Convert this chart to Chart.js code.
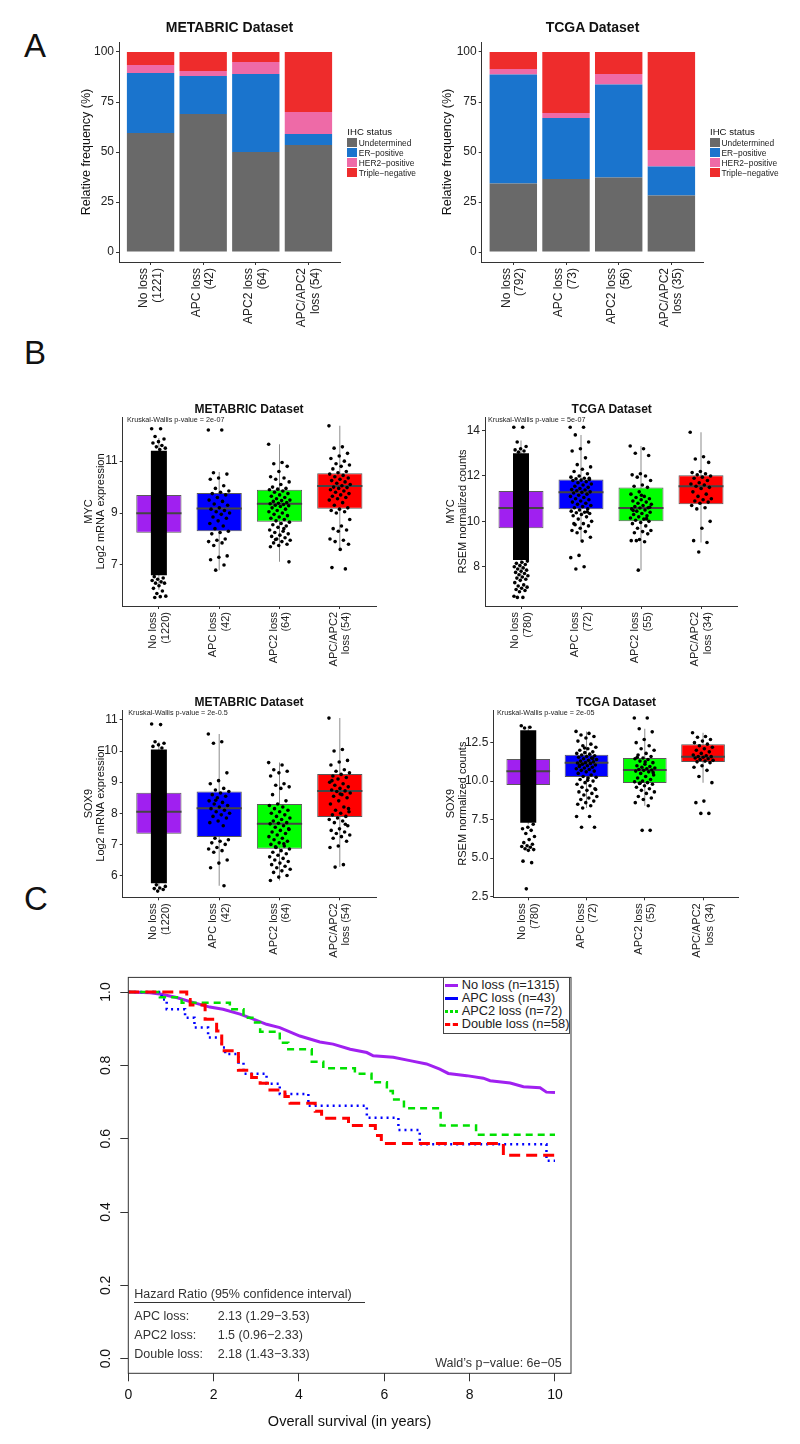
<!DOCTYPE html>
<html>
<head>
<meta charset="utf-8">
<script src="https://cdn.jsdelivr.net/npm/chart.js@4.4.0/dist/chart.umd.min.js"></script>
<style>
  body { margin: 0; background: #fff; font-family: "Liberation Sans", Arial, sans-serif; }
  #page { position: relative; width: 800px; height: 1444px; overflow: hidden; }
  canvas { position: absolute; }
  .t { position: absolute; white-space: nowrap; color: #111; }
</style>
</head>
<body>
<div id="page"></div>
<script>
// ---------- Panel A: IHC status, stacked percentages ----------
const groupNames = ['No loss', 'APC loss', 'APC2 loss', 'APC/APC2 loss'];
const metabricCountsA = [1221, 42, 64, 54];
const tcgaCountsA = [792, 73, 56, 35];
const ihcStatus = ['Undetermined', 'ER\u2212positive', 'HER2\u2212positive', 'Triple\u2212negative'];
const ihcColors = ['#696969', '#1a74cd', '#ee6aa7', '#ee2c2c'];
const pctTicks = [0, 25, 50, 75, 100];

const metabricUndetermined = [59.5, 69, 50, 53.5];
const metabricErPos = [30, 19, 39, 5.5];
const metabricHer2Pos = [4, 2.5, 6, 11];
const metabricTripleNeg = [6.5, 9.5, 5, 30];

const tcgaUndetermined = [34.2, 36.5, 37.2, 28.3];
const tcgaErPos = [54.6, 30.5, 46.5, 14.4];
const tcgaHer2Pos = [2.7, 2.5, 5.3, 8.3];
const tcgaTripleNeg = [8.5, 30.5, 11, 49];

// ---------- Panel B: expression box plots ----------
const metabricCountsB = [1220, 42, 64, 54];
const tcgaCountsB = [780, 72, 55, 34];
const boxColors = ['#a020f0', '#0000ff', '#00ff00', '#ff0000'];
// [lower whisker, q1, median, q3, upper whisker]
const mycMetabricStats = [[6.05, 8.24, 8.99, 9.70, 11.89], [6.8, 8.3, 9.18, 9.77, 10.58], [7.12, 8.67, 9.36, 9.9, 11.65], [7.6, 9.17, 10.04, 10.53, 12.36]];
const mycTcgaStats = [[7.41, 9.70, 10.59, 11.34, 13.56], [9.13, 10.53, 11.28, 11.84, 13.81], [7.85, 10.0, 10.59, 11.49, 13.32], [9.07, 10.76, 11.55, 12.03, 13.93]];
const sox9MetabricStats = [[5.6, 7.34, 8.05, 8.66, 10.3], [5.67, 7.24, 8.16, 8.7, 10.55], [5.84, 6.86, 7.66, 8.3, 9.63], [6.27, 7.88, 8.72, 9.26, 11.06]];
const sox9TcgaStats = [[7.2, 9.74, 10.64, 11.43, 13.6], [8.25, 10.26, 11.2, 11.71, 13.23], [8.4, 9.87, 10.72, 11.5, 13.4], [9.9, 11.24, 11.59, 12.4, 13.14]];

// "No loss" groups are too dense to read point by point: solid core range + readable tail points
const mycMetabricNoLossCore = [6.6, 11.4];
const mycMetabricNoLossTail = [12.25, 12.25, 11.95, 11.85, 11.75, 11.7, 11.6, 11.55, 11.5, 11.45, 6.55, 6.5, 6.45, 6.4, 6.35, 6.3, 6.3, 6.2, 6.1, 6.0, 5.9, 5.8, 5.78, 5.75];
const mycMetabricApc = [12.2, 12.2, 10.55, 10.5, 10.35, 10.3, 10.05, 9.95, 9.85, 9.8, 9.75, 9.7, 9.6, 9.5, 9.45, 9.35, 9.3, 9.2, 9.15, 9.1, 9.05, 9.0, 8.95, 8.85, 8.8, 8.7, 8.6, 8.5, 8.4, 8.3, 8.25, 8.2, 8.0, 7.95, 7.9, 7.85, 7.75, 7.35, 7.3, 7.2, 7.0, 6.8];
const mycMetabricApc2 = [11.65, 10.95, 10.9, 10.8, 10.6, 10.4, 10.35, 10.3, 10.2, 10.1, 10.0, 9.95, 9.92, 9.9, 9.85, 9.8, 9.75, 9.7, 9.65, 9.6, 9.55, 9.5, 9.48, 9.45, 9.4, 9.38, 9.36, 9.33, 9.3, 9.28, 9.25, 9.2, 9.15, 9.1, 9.05, 9.0, 8.95, 8.9, 8.85, 8.8, 8.75, 8.7, 8.65, 8.6, 8.55, 8.5, 8.45, 8.35, 8.3, 8.25, 8.2, 8.15, 8.1, 8.05, 8.0, 7.95, 7.9, 7.85, 7.8, 7.75, 7.7, 8.4, 7.98, 7.12];
const mycMetabricDouble = [12.36, 11.55, 11.5, 11.3, 11.2, 11.1, 11.0, 10.9, 10.85, 10.8, 10.7, 10.6, 10.55, 10.5, 10.45, 10.4, 10.35, 10.3, 10.25, 10.2, 10.15, 10.1, 10.05, 10.0, 9.98, 9.95, 9.9, 9.85, 9.8, 9.75, 9.7, 9.65, 9.6, 9.55, 9.5, 9.4, 9.3, 9.2, 9.15, 9.1, 9.05, 9.0, 8.75, 8.5, 8.4, 8.35, 8.3, 8.0, 7.95, 7.9, 7.8, 7.6, 6.9, 6.85];

const mycTcgaNoLossCore = [8.3, 13.0];
const mycTcgaNoLossTail = [14.15, 14.15, 13.5, 13.3, 13.2, 13.15, 13.1, 13.05, 8.25, 8.2, 8.15, 8.1, 8.05, 8.0, 7.95, 7.9, 7.85, 7.8, 7.75, 7.7, 7.65, 7.6, 7.55, 7.5, 7.45, 7.4, 7.3, 7.2, 7.15, 7.1, 7.05, 7.0, 6.95, 6.9, 6.7, 6.65, 6.65];
const mycTcgaApc = [14.15, 14.15, 13.81, 13.5, 13.2, 13.1, 12.8, 12.5, 12.4, 12.3, 12.2, 12.1, 12.0, 11.95, 11.9, 11.88, 11.85, 11.82, 11.8, 11.75, 11.7, 11.65, 11.6, 11.55, 11.5, 11.45, 11.4, 11.38, 11.35, 11.3, 11.28, 11.25, 11.2, 11.15, 11.1, 11.05, 11.0, 10.95, 10.9, 10.85, 10.8, 10.75, 10.7, 10.65, 10.6, 10.55, 10.5, 10.45, 10.4, 10.38, 10.35, 10.3, 10.25, 10.2, 10.1, 10.0, 9.9, 9.85, 9.8, 9.7, 9.6, 9.55, 9.5, 9.3, 9.13, 9.9, 10.42, 8.5, 8.4, 8.0, 7.9, 11.9];
const mycTcgaApc2 = [13.32, 13.2, 13.0, 12.9, 12.1, 12.05, 12.0, 11.95, 11.8, 11.6, 11.55, 11.5, 11.3, 11.2, 11.1, 11.05, 11.0, 10.95, 10.9, 10.85, 10.8, 10.75, 10.7, 10.65, 10.6, 10.59, 10.55, 10.5, 10.45, 10.4, 10.35, 10.3, 10.25, 10.2, 10.15, 10.1, 10.05, 10.0, 9.95, 9.9, 9.8, 9.7, 9.6, 9.55, 9.5, 9.45, 9.2, 9.15, 9.1, 9.15, 10.62, 11.15, 10.48, 10.12, 7.85];
const mycTcgaDouble = [13.93, 12.85, 12.75, 12.6, 12.2, 12.15, 12.1, 12.05, 12.0, 11.95, 11.9, 11.8, 11.7, 11.65, 11.6, 11.55, 11.5, 11.45, 11.3, 11.2, 11.1, 11.0, 10.95, 10.9, 10.85, 10.8, 10.7, 10.6, 10.55, 10.0, 9.7, 9.15, 9.07, 8.65];

const sox9MetabricNoLossCore = [5.75, 10.05];
const sox9MetabricNoLossTail = [10.87, 10.85, 10.3, 10.25, 10.2, 10.15, 10.1, 5.7, 5.65, 5.6, 5.58, 5.55, 5.5];
const sox9MetabricApc = [10.55, 10.3, 10.25, 9.3, 9.05, 8.95, 8.8, 8.75, 8.7, 8.65, 8.6, 8.55, 8.5, 8.4, 8.35, 8.3, 8.25, 8.2, 8.15, 8.1, 8.05, 8.0, 7.95, 7.9, 7.85, 7.75, 7.7, 7.6, 7.2, 7.15, 7.1, 7.05, 7.0, 6.9, 6.85, 6.8, 6.75, 6.5, 6.4, 6.25, 5.67, 8.42];
const sox9MetabricApc2 = [9.63, 9.55, 9.4, 9.35, 9.3, 9.2, 8.95, 8.9, 8.85, 8.8, 8.6, 8.4, 8.3, 8.25, 8.2, 8.15, 8.1, 8.05, 8.0, 7.95, 7.9, 7.85, 7.8, 7.75, 7.7, 7.68, 7.66, 7.6, 7.55, 7.5, 7.45, 7.4, 7.35, 7.3, 7.25, 7.2, 7.15, 7.1, 7.05, 7.0, 6.95, 6.9, 6.85, 6.8, 6.75, 6.7, 6.65, 6.6, 6.55, 6.5, 6.45, 6.4, 6.35, 6.3, 6.25, 6.2, 6.15, 6.1, 6.0, 5.95, 5.84, 7.02, 6.92, 7.48];
const sox9MetabricDouble = [11.06, 10.05, 10.0, 9.7, 9.65, 9.55, 9.4, 9.35, 9.3, 9.25, 9.2, 9.15, 9.1, 9.0, 8.95, 8.9, 8.85, 8.8, 8.75, 8.72, 8.7, 8.65, 8.6, 8.55, 8.5, 8.4, 8.3, 8.2, 8.1, 8.05, 8.0, 7.95, 7.9, 7.85, 7.8, 7.75, 7.7, 7.6, 7.5, 7.45, 7.4, 7.35, 7.3, 7.25, 7.2, 7.1, 6.95, 6.9, 6.35, 6.27, 8.15, 8.62, 9.05, 7.65];

const sox9TcgaNoLossCore = [7.3, 13.3];
const sox9TcgaNoLossTail = [13.6, 13.5, 13.45, 7.2, 7.0, 6.9, 6.8, 6.6, 6.4, 6.2, 6.0, 5.9, 5.8, 5.75, 5.7, 5.6, 5.55, 5.5, 4.8, 4.7, 3.0];
const sox9TcgaApc = [13.23, 13.1, 13.0, 12.9, 12.8, 12.6, 12.4, 12.3, 12.2, 12.1, 12.0, 11.9, 11.85, 11.8, 11.75, 11.7, 11.65, 11.6, 11.55, 11.5, 11.45, 11.4, 11.35, 11.3, 11.25, 11.2, 11.18, 11.15, 11.1, 11.05, 11.0, 10.95, 10.9, 10.85, 10.8, 10.75, 10.7, 10.65, 10.6, 10.5, 10.4, 10.3, 10.25, 10.2, 10.1, 10.0, 9.9, 9.8, 9.7, 9.6, 9.5, 9.4, 9.3, 9.2, 9.1, 9.0, 8.9, 8.8, 8.7, 8.6, 8.5, 8.4, 8.25, 9.45, 10.05, 11.02, 11.48, 12.15, 7.7, 7.7, 7.0, 7.0];
const sox9TcgaApc2 = [14.1, 14.1, 13.4, 13.2, 12.7, 12.5, 12.3, 12.1, 12.0, 11.8, 11.7, 11.6, 11.5, 11.45, 11.4, 11.3, 11.2, 11.1, 11.0, 10.95, 10.9, 10.85, 10.8, 10.75, 10.72, 10.7, 10.65, 10.6, 10.5, 10.4, 10.3, 10.2, 10.1, 10.0, 9.95, 9.9, 9.85, 9.8, 9.7, 9.6, 9.5, 9.4, 9.3, 9.2, 9.0, 8.9, 8.8, 8.6, 8.4, 9.88, 10.55, 11.25, 11.55, 6.8, 6.8];
const sox9TcgaDouble = [13.14, 12.9, 12.85, 12.7, 12.6, 12.5, 12.4, 12.3, 12.2, 12.1, 12.0, 11.9, 11.8, 11.7, 11.65, 11.6, 11.59, 11.55, 11.5, 11.45, 11.4, 11.35, 11.3, 11.25, 11.2, 11.0, 10.9, 10.7, 10.3, 9.9, 8.7, 8.6, 7.9, 7.9];

const mycMetabricTicks = [7, 9, 11];
const mycTcgaTicks = [8, 10, 12, 14];
const sox9MetabricTicks = [6, 7, 8, 9, 10, 11];
const sox9TcgaTicks = [2.5, 5.0, 7.5, 10.0, 12.5];

// ---------- Panel C: Kaplan-Meier survival ----------
const noLossTime = [0, 0.51, 0.78, 1.13, 1.45, 1.91, 2.22, 2.62, 2.93, 3.24, 3.55, 4.02, 4.49, 4.80, 5.2, 5.59, 5.74, 6.21, 6.6, 6.99, 7.3, 7.5, 7.93, 8.32, 8.48, 8.95, 9.26, 9.65, 9.8, 10.0];
const noLossSurv = [1.0, 0.998, 0.994, 0.985, 0.974, 0.959, 0.953, 0.94, 0.926, 0.912, 0.903, 0.88, 0.864, 0.858, 0.844, 0.835, 0.826, 0.822, 0.813, 0.804, 0.79, 0.778, 0.772, 0.765, 0.758, 0.752, 0.742, 0.739, 0.727, 0.726];
const apcTime = [0, 0.78, 0.9, 1.33, 1.55, 1.87, 2.19, 2.27, 2.58, 2.7, 3.24, 3.55, 4.22, 5.59, 6.33, 6.83, 9.8, 10.0];
const apcSurv = [1.0, 0.98, 0.953, 0.93, 0.903, 0.876, 0.849, 0.831, 0.808, 0.777, 0.75, 0.722, 0.69, 0.657, 0.624, 0.585, 0.54, 0.54];
const apc2Time = [0, 0.74, 1.25, 2.38, 2.7, 2.97, 3.09, 3.55, 3.75, 4.3, 4.57, 5.31, 5.7, 6.06, 6.2, 6.46, 7.32, 8.15, 10.0];
const apc2Surv = [1.0, 0.986, 0.971, 0.953, 0.93, 0.917, 0.892, 0.862, 0.844, 0.81, 0.792, 0.777, 0.754, 0.73, 0.707, 0.683, 0.636, 0.611, 0.611];
const doubleTime = [0, 1.37, 1.45, 1.8, 2.07, 2.19, 2.58, 2.89, 3.09, 3.32, 3.67, 3.79, 4.38, 4.53, 5.16, 5.79, 5.93, 8.79, 10.0];
const doubleSurv = [1.0, 0.98, 0.965, 0.926, 0.894, 0.84, 0.787, 0.767, 0.751, 0.733, 0.715, 0.697, 0.675, 0.656, 0.636, 0.609, 0.587, 0.555, 0.555];
const survTicksX = [0, 2, 4, 6, 8, 10];
const survTicksY = [0, 0.2, 0.4, 0.6, 0.8, 1.0];
const kmLegend = ['No loss (n=1315)', 'APC loss (n=43)', 'APC2 loss (n=72)', 'Double loss (n=58)'];
const hrRows = [['APC loss:', '2.13 (1.29\u22123.53)'], ['APC2 loss:', '1.5 (0.96\u22122.33)'], ['Double loss:', '2.18 (1.43\u22123.33)']];

// ---------- helpers ----------
Chart.defaults.font.family = '"Liberation Sans", Arial, sans-serif';
Chart.defaults.color = '#222';
const page = document.getElementById('page');

function makeCanvas(b) {
  const c = document.createElement('canvas');
  c.width = b.w; c.height = b.h;
  c.style.left = b.x + 'px'; c.style.top = b.y + 'px';
  c.style.width = b.w + 'px'; c.style.height = b.h + 'px';
  page.appendChild(c);
  return c;
}

// padding and axis sizes so the plot area lands on `a`
function fit(b, a) {
  return {
    padding: { left: 2, top: a.t - b.y, right: b.x + b.w - a.r, bottom: 2 },
    yWidth: a.l - b.x - 2,
    xHeight: b.y + b.h - 2 - a.b
  };
}

function txt(s, x, y, size, o = {}) {
  const d = document.createElement('div');
  d.className = 't';
  d.textContent = s;
  d.style.left = x + 'px';
  d.style.top = (y - size / 2) + 'px';
  d.style.fontSize = size + 'px';
  d.style.lineHeight = size + 'px';
  if (o.bold) d.style.fontWeight = 'bold';
  if (o.align === 'center') d.style.transform = 'translateX(-50%)';
  if (o.align === 'right') d.style.transform = 'translateX(-100%)';
  if (o.color) d.style.color = o.color;
  page.appendChild(d);
  return d;
}

function block(x, y, w, h, css) {
  const d = document.createElement('div');
  d.style.position = 'absolute';
  d.style.left = x + 'px'; d.style.top = y + 'px';
  d.style.width = w + 'px'; d.style.height = h + 'px';
  Object.assign(d.style, css);
  page.appendChild(d);
  return d;
}

function twoLine(name, n) {
  return name === 'APC/APC2 loss' ? ['APC/APC2', 'loss (' + n + ')'] : [name, '(' + n + ')'];
}

function jit(k, w) {
  return (((k * 0.6180339887) % 1) - 0.5) * w;
}

function xAxis(labels, h, size, stacked) {
  return {
    type: 'linear', min: 0.4, max: labels.length + 0.6, stacked: stacked, offset: false,
    afterBuildTicks: s => { s.ticks = labels.map((l, i) => ({ value: i + 1 })); },
    afterFit: s => { s.height = h; },
    ticks: { callback: (v, i) => labels[i], minRotation: 90, maxRotation: 90, autoSkip: false,
             padding: 3, labelOffset: -Math.round(size * 0.55), color: '#222', font: { size: size, lineHeight: 1.15 } },
    grid: { offset: false, drawOnChartArea: false, tickLength: 3, color: '#333' },
    border: { color: '#333', width: 1 }
  };
}

function yAxis(min, max, tickVals, fmt, w, title, tSize, tPad, stacked) {
  return {
    type: 'linear', min: min, max: max, stacked: stacked, beginAtZero: false,
    afterBuildTicks: s => { s.ticks = tickVals.map(v => ({ value: v })); },
    afterFit: s => { s.width = w; },
    ticks: { callback: v => fmt(v), padding: 2, color: '#222', font: { size: 12 } },
    grid: { drawOnChartArea: false, tickLength: 3, color: '#333' },
    border: { color: '#333', width: 1 },
    title: { display: true, text: title, color: '#111', font: { size: tSize, lineHeight: 1.1 }, padding: { top: tPad, bottom: 0 } }
  };
}

function baseOptions(fx) {
  return {
    responsive: false, animation: false,
    layout: { padding: fx.padding },
    plugins: { legend: { display: false }, tooltip: { enabled: false } }
  };
}

// ---------- Panel A ----------
function stackedChart(b, a, counts, segs, tPad) {
  const fx = fit(b, a);
  const labels = groupNames.map((g, i) => twoLine(g, counts[i]));
  new Chart(makeCanvas(b), {
    type: 'bar',
    data: {
      datasets: segs.map((vals, k) => ({
        label: ihcStatus[k],
        data: vals.map((v, i) => ({ x: i + 1, y: v })),
        backgroundColor: ihcColors[k],
        borderWidth: 0,
        barPercentage: 0.9, categoryPercentage: 1
      }))
    },
    options: Object.assign(baseOptions(fx), {
      scales: {
        x: xAxis(labels, fx.xHeight, 12, true),
        y: yAxis(-5, 105, pctTicks, v => String(v), fx.yWidth, 'Relative frequency (%)', 12.5, tPad, true)
      }
    })
  });
}

stackedChart({ x: 60, y: 30, w: 300, h: 300 }, { l: 119, r: 340, t: 42, b: 262 }, metabricCountsA,
  [metabricUndetermined, metabricErPos, metabricHer2Pos, metabricTripleNeg], 17.8);
stackedChart({ x: 422, y: 30, w: 300, h: 300 }, { l: 481.7, r: 703, t: 42, b: 262 }, tcgaCountsA,
  [tcgaUndetermined, tcgaErPos, tcgaHer2Pos, tcgaTripleNeg], 17.1);

function ihcLegend(x) {
  txt('IHC status', x, 131.7, 9.6);
  ihcStatus.forEach((s, k) => {
    const cy = 142.7 + k * 10;
    block(x, cy - 4.8, 9.5, 9.5, { background: ihcColors[k] });
    txt(s, x + 11.5, cy, 8.4, { color: '#222' });
  });
}
ihcLegend(347.3);
ihcLegend(710);

txt('METABRIC Dataset', 229.5, 27, 14, { bold: true, align: 'center' });
txt('TCGA Dataset', 592.5, 27, 14, { bold: true, align: 'center' });

// ---------- Panel B ----------
function boxChart(c) {
  const fx = fit(c.box, c.area);
  const labels = groupNames.map((g, i) => twoLine(g, c.counts[i]));
  const halfBox = ctx => {
    const s = ctx.chart.scales.x;
    return Math.abs(s.getPixelForValue(1.375) - s.getPixelForValue(1));
  };
  const datasets = [];
  c.points.forEach((vals, i) => {
    const w = (i === 0) ? 0.24 : 0.36;
    datasets.push({
      type: 'scatter', order: 0,
      data: vals.map((v, k) => ({ x: i + 1 + jit(k, w), y: v })),
      pointRadius: 1.8, pointBackgroundColor: '#000', pointBorderWidth: 0
    });
  });
  datasets.push({
    type: 'bar', order: 1, grouped: false,
    data: [{ x: 1, y: c.core }],
    backgroundColor: '#000', borderWidth: 0, maxBarThickness: 16
  });
  datasets.push({
    type: 'scatter', order: 2,
    data: c.stats.map((s, i) => ({ x: i + 1, y: s[2] })),
    pointStyle: 'line', pointRadius: halfBox, pointBorderColor: '#444', pointBorderWidth: 2
  });
  datasets.push({
    type: 'bar', order: 3, grouped: false,
    data: c.stats.map((s, i) => ({ x: i + 1, y: [s[1], s[3]] })),
    backgroundColor: boxColors, borderColor: '#5a5a5a', borderWidth: 1, borderSkipped: false,
    barPercentage: 0.75, categoryPercentage: 1
  });
  datasets.push({
    type: 'bar', order: 4, grouped: false,
    data: c.stats.map((s, i) => ({ x: i + 1, y: [s[0], s[4]] })),
    backgroundColor: '#8c8c8c', borderWidth: 0, maxBarThickness: 1
  });
  new Chart(makeCanvas(c.box), {
    type: 'bar',
    data: { datasets: datasets },
    options: Object.assign(baseOptions(fx), {
      scales: {
        x: xAxis(labels, fx.xHeight, 11, false),
        y: yAxis(c.yMin, c.yMax, c.ticks, c.fmt, fx.yWidth, c.yTitle, 11, c.tPad, false)
      }
    })
  });
}

boxChart({
  box: { x: 70, y: 405, w: 325, h: 275 }, area: { l: 122.7, r: 376, t: 417, b: 606 },
  counts: metabricCountsB, stats: mycMetabricStats, core: mycMetabricNoLossCore,
  points: [mycMetabricNoLossTail, mycMetabricApc, mycMetabricApc2, mycMetabricDouble],
  yMin: 5.42, yMax: 12.7, ticks: mycMetabricTicks, fmt: v => String(v),
  yTitle: ['MYC', 'Log2 mRNA expression'], tPad: 10.5
});
boxChart({
  box: { x: 430, y: 405, w: 325, h: 275 }, area: { l: 485, r: 737, t: 417, b: 606 },
  counts: tcgaCountsB, stats: mycTcgaStats, core: mycTcgaNoLossCore,
  points: [mycTcgaNoLossTail, mycTcgaApc, mycTcgaApc2, mycTcgaDouble],
  yMin: 6.27, yMax: 14.6, ticks: mycTcgaTicks, fmt: v => String(v),
  yTitle: ['MYC', 'RSEM normalized counts'], tPad: 13
});
boxChart({
  box: { x: 70, y: 698, w: 325, h: 275 }, area: { l: 122.7, r: 376, t: 710, b: 897.3 },
  counts: metabricCountsB, stats: sox9MetabricStats, core: sox9MetabricNoLossCore,
  points: [sox9MetabricNoLossTail, sox9MetabricApc, sox9MetabricApc2, sox9MetabricDouble],
  yMin: 5.3, yMax: 11.32, ticks: sox9MetabricTicks, fmt: v => String(v),
  yTitle: ['SOX9', 'Log2 mRNA expression'], tPad: 10.5
});
boxChart({
  box: { x: 430, y: 698, w: 325, h: 275 }, area: { l: 493.3, r: 738, t: 710, b: 897.3 },
  counts: tcgaCountsB, stats: sox9TcgaStats, core: sox9TcgaNoLossCore,
  points: [sox9TcgaNoLossTail, sox9TcgaApc, sox9TcgaApc2, sox9TcgaDouble],
  yMin: 2.45, yMax: 14.62, ticks: sox9TcgaTicks, fmt: v => v.toFixed(1),
  yTitle: ['SOX9', 'RSEM normalized counts'], tPad: 13
});

txt('METABRIC Dataset', 249, 409, 12, { bold: true, align: 'center' });
txt('TCGA Dataset', 611.7, 409, 12, { bold: true, align: 'center' });
txt('METABRIC Dataset', 249, 701.7, 12, { bold: true, align: 'center' });
txt('TCGA Dataset', 616, 701.7, 12, { bold: true, align: 'center' });
txt('Kruskal-Wallis p-value = 2e-07', 127, 420, 7.2, { color: '#222' });
txt('Kruskal-Wallis p-value = 5e-07', 488, 420, 7.2, { color: '#222' });
txt('Kruskal-Wallis p-value = 2e-0.5', 128.3, 712.7, 7.2, { color: '#222' });
txt('Kruskal-Wallis p-value = 2e-05', 497, 712.7, 7.2, { color: '#222' });

// ---------- Panel C ----------
const framePlugin = {
  id: 'frame',
  afterDraw(chart) {
    const a = chart.chartArea, ctx = chart.ctx;
    ctx.save();
    ctx.strokeStyle = '#333';
    ctx.lineWidth = 1;
    ctx.strokeRect(a.left, a.top, a.right - a.left, a.bottom - a.top);
    ctx.restore();
  }
};

const zipXY = (t, s) => t.map((v, i) => ({ x: v, y: s[i] }));
const kmColors = ['#a020f0', '#0000ff', '#00e000', '#ff0000'];
(function () {
  const b = { x: 95, y: 965, w: 490, h: 475 };
  const fx = fit(b, { l: 128.3, r: 571, t: 977.3, b: 1373.3 });
  new Chart(makeCanvas(b), {
    type: 'line',
    data: {
      datasets: [
        { data: zipXY(noLossTime, noLossSurv), borderColor: kmColors[0], borderWidth: 3, order: 3 },
        { data: zipXY(apcTime, apcSurv), borderColor: kmColors[1], borderWidth: 2.5, borderDash: [2, 4], stepped: true, order: 2 },
        { data: zipXY(apc2Time, apc2Surv), borderColor: kmColors[2], borderWidth: 2.5, borderDash: [7, 5], stepped: true, order: 1 },
        { data: zipXY(doubleTime, doubleSurv), borderColor: kmColors[3], borderWidth: 3, borderDash: [11, 6], stepped: true, order: 0 }
      ]
    },
    options: Object.assign(baseOptions(fx), {
      elements: { point: { radius: 0 }, line: { tension: 0 } },
      scales: {
        x: {
          type: 'linear', min: 0, max: 10.375,
          afterBuildTicks: s => { s.ticks = survTicksX.map(v => ({ value: v })); },
          afterFit: s => { s.height = fx.xHeight; },
          ticks: { padding: 5, color: '#111', font: { size: 14 } },
          grid: { drawOnChartArea: false, tickLength: 8, color: '#333' },
          border: { display: false },
          title: { display: true, text: 'Overall survival (in years)', color: '#111', font: { size: 14.5 }, padding: { top: 0, bottom: 7 } }
        },
        y: {
          type: 'linear', min: -0.04, max: 1.04,
          afterBuildTicks: s => { s.ticks = survTicksY.map(v => ({ value: v })); },
          afterFit: s => { s.width = fx.yWidth; },
          ticks: { callback: v => v.toFixed(1), minRotation: 90, maxRotation: 90, crossAlign: 'center', padding: 4, color: '#111', font: { size: 14 } },
          grid: { drawOnChartArea: false, tickLength: 8, color: '#333' },
          border: { display: false }
        }
      }
    }),
    plugins: [framePlugin]
  });
})();

// KM legend
block(442.7, 977.3, 127.3, 56.7, { border: '1px solid #444', boxSizing: 'border-box', background: '#fff' });
const legendDash = ['solid', 'solid', 'dotted', 'dashed'];
kmLegend.forEach((s, k) => {
  const cy = 985.7 + k * 12.8;
  block(445, cy - 1.5, 13, 0, { borderTop: '3px ' + legendDash[k] + ' ' + kmColors[k] });
  txt(s, 461.7, cy, 12.8, { color: '#222' });
});

// hazard ratio table
txt('Hazard Ratio (95% confidence interval)', 134.3, 1294.3, 12.5, { color: '#333' });
block(134, 1302, 231, 1, { background: '#333' });
hrRows.forEach((r, k) => {
  const cy = 1316 + k * 19.2;
  txt(r[0], 134.3, cy, 12.5, { color: '#333' });
  txt(r[1], 217.7, cy, 12.5, { color: '#333' });
});
txt('Wald\u2019s p\u2212value: 6e\u221205', 561.7, 1363.3, 12.5, { color: '#333', align: 'right' });

// panel letters
txt('A', 24, 45, 33);
txt('B', 24, 352.5, 33);
txt('C', 24, 898.5, 33);
</script>
</body>
</html>
